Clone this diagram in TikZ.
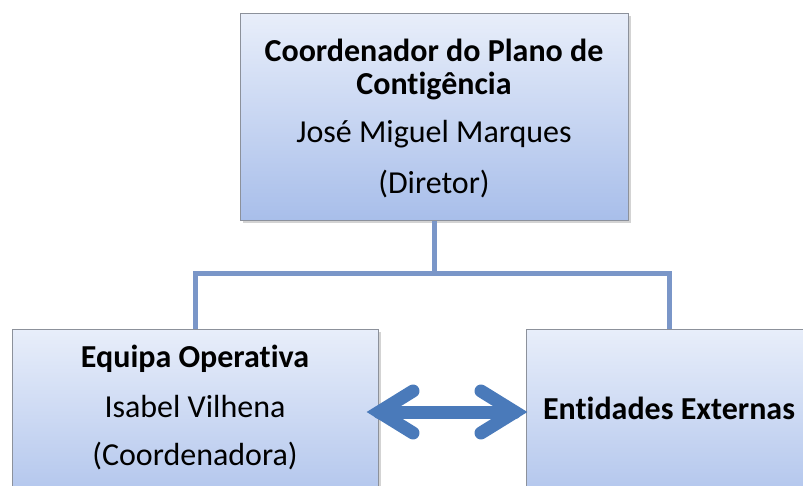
\documentclass[tikz,border=0pt]{standalone}
\usepackage{fontspec}
\setmainfont{Carlito}[Ligatures=NoCommon]
\usetikzlibrary{shadows,calc}
\definecolor{boxtop}{RGB}{232,238,250}
\definecolor{boxbot}{RGB}{168,190,234}
\definecolor{boxline}{RGB}{140,145,155}
\definecolor{conn}{RGB}{122,150,200}
\definecolor{arrowblue}{RGB}{74,122,186}
\tikzset{
  orgbox/.style={rectangle, draw=boxline, line width=0.8pt, top color=boxtop, bottom color=boxbot,
    drop shadow={shadow xshift=2.5pt, shadow yshift=-2.5pt, opacity=0.35}, inner sep=0pt},
  txt/.style={font=\fontsize{32}{38}\selectfont, anchor=base, inner sep=0pt},
  btxt/.style={txt, font=\fontsize{32}{38}\selectfont\bfseries},
  connector/.style={draw=conn, line width=5pt},
  bigarrow/.style={draw=arrowblue, line width=13pt, line cap=round, line join=miter},
}
\begin{document}
\begin{tikzpicture}[x=1pt,y=-1pt]
\useasboundingbox (0,0) rectangle (803,486);
\begin{scope}
\clip (0,0) rectangle (803,486);
% boxes
\node[orgbox, minimum width=388pt, minimum height=207pt] (top) at (434,117) {};
\node[orgbox, minimum width=366pt, minimum height=200pt] (left) at (195,429) {};
\node[orgbox, minimum width=286pt, minimum height=200pt] (right) at (669,429) {};
% connectors
\coordinate (j) at (434,274);
\coordinate (jl) at (195,274);
\coordinate (jr) at (669,274);
\draw[connector] (top.south) -- (j);
\draw[connector, line cap=rect] (jl) -- (jr);
\draw[connector] (jl) -- (jl |- left.north);
\draw[connector] (jr) -- (jr |- right.north);
% texts
\node[btxt] (t1) at (434,62) {Coordenador do Plano de};
\node[btxt] (t2) at (434,95) {Contigência};
\node[txt] (t3) at (434,143) {José Miguel Marques};
\node[txt] (t4) at (434,194) {(Diretor)};
\node[btxt] (l1) at (195,367) {Equipa Operativa};
\node[txt] (l2) at (195,417) {Isabel Vilhena};
\node[txt] (l3) at (195,465) {(Coordenadora)};
\node[btxt] (r1) at (669,419) {Entidades Externas};
% double arrow
\coordinate (al) at (379,412);
\coordinate (ar) at (515,412);
\draw[bigarrow] (al) -- (ar);
\draw[bigarrow] ($(al)+(34,-21)$) -- (al) -- ($(al)+(34,21)$);
\draw[bigarrow] ($(ar)+(-34,-21)$) -- (ar) -- ($(ar)+(-34,21)$);
\end{scope}
\end{tikzpicture}
\end{document}
